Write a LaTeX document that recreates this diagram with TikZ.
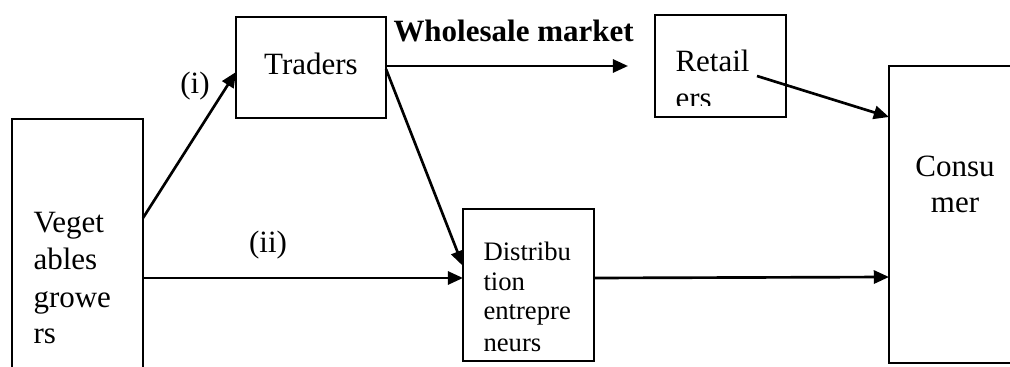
\documentclass[tikz,border=0pt]{standalone}
\usepackage{fontspec}
\setmainfont{Liberation Serif}
\usetikzlibrary{arrows.meta,fit}
\begin{document}
\begin{tikzpicture}[x=0.3937pt,y=-0.3937pt,
  box/.style={draw, line width=0.85pt, inner sep=0pt, outer sep=0pt},
  line/.style={inner sep=0pt, anchor=base west, font=\fontsize{12.2pt}{14pt}\selectfont},
  cline/.style={inner sep=0pt, anchor=base, font=\fontsize{12.2pt}{14pt}\selectfont},
  sline/.style={inner sep=0pt, anchor=base west, font=\fontsize{10.5pt}{12pt}\selectfont},
  lbl/.style={inner sep=0pt, font=\fontsize{12.2pt}{14pt}\selectfont},
  arr/.style={line width=1.05pt, -{Triangle[length=6pt,width=5.2pt]}}]
\useasboundingbox (0,0) rectangle (1010,367);
\clip (0,0) rectangle (1010,367);

% boxes
\node[box, fit={(12,119) (143,440)}] (growers) {};
\node[box, fit={(236,17) (386,118)}] (traders) {};
\node[box, fit={(655,15) (786,117)}] (retailers) {};
\node[box, fit={(463,209) (594,361)}] (distrib) {};
\node[box, fit={(889,66) (1060,363)}] (consumer) {};

% box texts
\node[line] (g1) at (33,233) {Veget};
\node[line] (g2) at (33,270) {ables};
\node[line] (g3) at (33,307) {growe};
\node[line] (g4) at (33,343) {rs};

\node[cline] (t1) at (311,75) {Traders};

\node[line] (r1) at (675,72) {Retail};
\begin{scope}
  \clip (655,15) rectangle (786,105.5);
  \node[line] (r2) at (675,108.5) {ers};
\end{scope}

\node[sline] (d1) at (483,260) {Distribu};
\node[sline] (d2) at (483,290) {tion};
\node[sline] (d3) at (483,320) {entrepre};
\begin{scope}
  \clip (463,209) rectangle (594,352);
  \node[sline] (d4) at (483,351) {neurs};
\end{scope}

\node[cline] (c1) at (955,177) {Consu};
\node[cline] (c2) at (955,213) {mer};

% labels
\node[line, font=\bfseries\fontsize{12.2pt}{14pt}\selectfont] (wm) at (393,42) {Wholesale market};
\node[lbl] (li) at (195,86) {(i)};
\node[lbl] (lii) at (268,245) {(ii)};

% connectors
\coordinate (wsend) at (628,66);
\coordinate (retstart) at (757,76);
\draw[arr] (growers.east |- 0,218) -- (traders.west |- 0,72);
\draw[arr] (growers.east |- 0,278) -- (distrib.west |- 0,278);
\draw[arr] (traders.east |- 0,66) -- (wsend);
\draw[arr] (traders.east |- 0,69) -- (distrib.west |- 0,266);
\draw[arr] (retstart) -- (consumer.west |- 0,117);
\draw[arr] (distrib.east |- 0,278) -- (consumer.west |- 0,277);
\end{tikzpicture}
\end{document}
